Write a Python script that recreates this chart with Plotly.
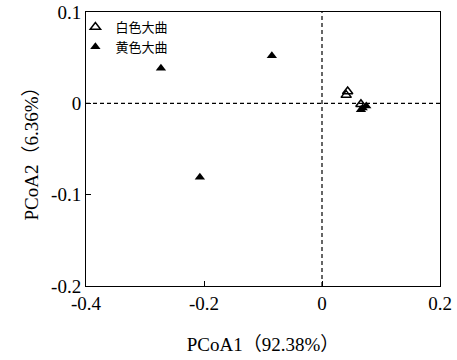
import plotly.graph_objects as go

white_x = [0.0435, 0.041, 0.066]
white_y = [0.013, 0.009, -0.001]
yellow_x = [-0.273, -0.085, -0.207, 0.069, 0.075, 0.066]
yellow_y = [0.0385, 0.052, -0.081, -0.005, -0.003, -0.007]
series_names = ["白色大曲", "黄色大曲"]
x_ticks = [-0.4, -0.2, 0, 0.2]
y_ticks = [-0.2, -0.1, 0, 0.1]

FONT = "Liberation Serif, Times New Roman, Noto Sans CJK SC, serif"

fig = go.Figure()
fig.add_trace(go.Scatter(x=white_x, y=white_y, mode="markers", name=series_names[0],
                         marker=dict(symbol="triangle-up-open", size=9, color="black",
                                     line=dict(width=1.5, color="black"))))
fig.add_trace(go.Scatter(x=yellow_x, y=yellow_y, mode="markers", name=series_names[1],
                         marker=dict(symbol="triangle-up", size=9, color="black")))

fig.add_shape(type="line", x0=0, x1=0, y0=-0.2, y1=0.1, xref="x", yref="y",
              line=dict(color="black", width=1.2, dash="4px,3px"), layer="below")
fig.add_shape(type="line", x0=-0.4, x1=0.2, y0=0, y1=0, xref="x", yref="y",
              line=dict(color="black", width=1.2, dash="4px,3px"), layer="below")

axis_common = dict(showgrid=False, zeroline=False, showline=True, linecolor="black",
                   linewidth=1, mirror=True, ticks="inside", ticklen=5, automargin=False,
                   ticklabeloverflow="allow",
                   tickcolor="black", tickfont=dict(family=FONT, size=19, color="black"))

fig.update_layout(
    width=457, height=360,
    margin=dict(l=86, r=17, t=12, b=74),
    plot_bgcolor="white", paper_bgcolor="white",
    font=dict(family=FONT, color="black"),
    showlegend=True,
    legend=dict(x=-0.03, y=1.0, xanchor="left", yanchor="top", bgcolor="rgba(0,0,0,0)",
                font=dict(family=FONT, size=13, color="black"),
                itemwidth=30, tracegroupgap=0),
    xaxis=dict(range=[-0.4, 0.2], tickvals=x_ticks, ticktext=["-0.4", "-0.2", "0", "0.2"],
               title=dict(text="PCoA1（92.38%）", font=dict(family=FONT, size=19), standoff=24),
               **axis_common),
    yaxis=dict(range=[-0.2, 0.1], tickvals=y_ticks, ticktext=["-0.2", "-0.1", "0", "0.1"],
               title=dict(text="PCoA2（6.36%）", font=dict(family=FONT, size=19), standoff=7),
               **axis_common),
)

fig.write_html("out.html", config={"displayModeBar": False},
               post_script="document.body.style.margin='0';")
